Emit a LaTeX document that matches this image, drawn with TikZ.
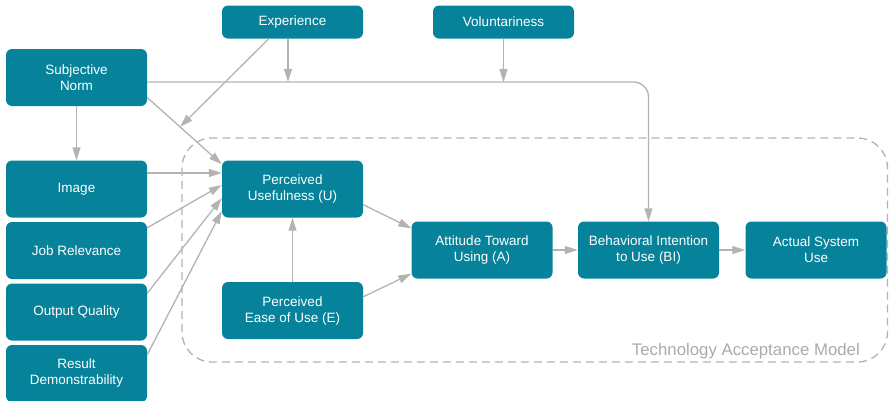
\documentclass[tikz,border=0pt]{standalone}
\usepackage{fontspec}
\setmainfont{Liberation Sans}
\usetikzlibrary{arrows.meta, calc, positioning}
\definecolor{tamteal}{HTML}{06839A}
\definecolor{tamgrey}{HTML}{B3B3B3}
\definecolor{tamlabel}{HTML}{ABABAB}
\tikzset{
  box/.style={rectangle, rounded corners=6pt, fill=tamteal, text=white, align=center, minimum width=141pt, minimum height=57pt, inner sep=2pt, font=\fontsize{13.5}{16}\selectfont},
  smallbox/.style={box, minimum height=33pt},
  pto/.style={-{Triangle[length=13pt,width=8pt]}, line width=1.3pt, tamgrey},
  alin/.style={line width=1.3pt, tamgrey},
  frame/.style={dash pattern=on 8pt off 5pt, line width=1.3pt, tamgrey, rounded corners=30pt}
}

\begin{document}
\begin{tikzpicture}[x=1pt, y=-1pt]
  \useasboundingbox (0,0) rectangle (889,400);

  % the TAM core
  \draw[frame] (182,138) rectangle (887.5,362);
  \node[anchor=base east, inner sep=0pt, text=tamlabel, font=\fontsize{16.8}{18}\selectfont] (tamlbl) at (860,355) {Technology Acceptance Model};

  % moderators
  \node[smallbox] (exp) at (292.5,22) {Experience};
  \node[smallbox] (vol) at (503.5,22) {Voluntariness};

  % external variables
  \node[box] (sn) at (76.5,77.5) {Subjective\\Norm};
  \node[box] (img) at (76.5,189) {Image};
  \node[box] (jr) at (76.5,250.5) {Job Relevance};
  \node[box] (oq) at (76.5,312) {Output Quality};
  \node[box] (rd) at (76.5,373.5) {Result\\Demonstrability};

  \node[box] (pu) at (292.5,189) {Perceived\\Usefulness (U)};
  \node[box] (peou) at (292.5,310.5) {Perceived\\Ease of Use (E)};
  \node[box] (att) at (482,250) {Attitude Toward\\Using (A)};
  \node[box] (bi) at (648.5,250) {Behavioral Intention\\to Use (BI)};
  \node[box] (asu) at (816,250) {Actual System\\Use};

  % sn -> bi, with the moderators on top
  \coordinate (hub) at ([yshift=-4.5pt]sn.east);
  \draw[pto, rounded corners=15pt] (hub) -| (bi.north);
  \draw[pto] ([xshift=-4.5pt]exp.south) -- ([xshift=-4.5pt]exp.south |- hub);
  \draw[pto] (vol.south) -- (vol.south |- hub);

  % sn -> pu, moderated by experience
  \draw[pto] ([yshift=-20pt]sn.east) -- coordinate[pos=.44] (mod) ([yshift=-4pt]pu.north west);
  \draw[pto] ([xshift=47pt]exp.south west) -- (mod);

  % left column -> pu
  \draw[pto] (sn) -- (img);
  \draw[pto] ([yshift=16pt]img.east) -- ([yshift=16pt]pu.west);
  \draw[pto] ([yshift=-6pt]jr.north east) -- ([yshift=4pt]pu.west);
  \draw[pto] ([yshift=-10pt]oq.north east) -- ([yshift=-9pt]pu.west);
  \draw[pto] ([yshift=-10pt]rd.north east) -- ([yshift=-22pt]pu.west);

  % core chain
  \draw[pto] (peou) -- (pu);
  \draw[pto] ([yshift=13pt]pu.south east) -- ([yshift=-7pt]att.north west);
  \draw[pto] ([yshift=-15pt]peou.north east) -- ([yshift=5pt]att.south west);
  \draw[pto] (att) -- (bi);
  \draw[pto] (bi) -- (asu);
\end{tikzpicture}
\end{document}
